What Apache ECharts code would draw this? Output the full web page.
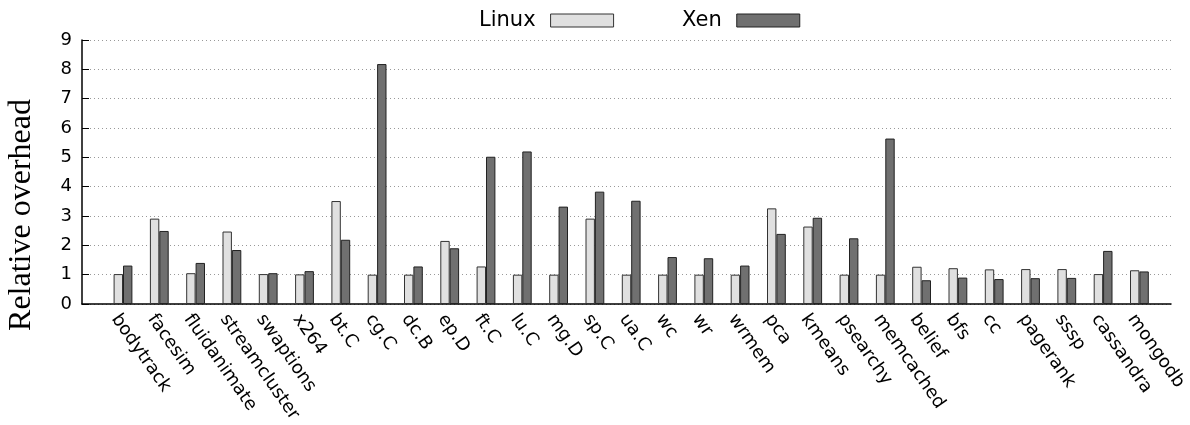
<!DOCTYPE html>
<html>
<head>
<meta charset="utf-8">
<script src="https://cdn.jsdelivr.net/npm/echarts@6/dist/echarts.min.js"></script>
<style>html,body{margin:0;padding:0;background:#fff;}#c{width:1190px;height:425px;}</style>
</head>
<body>
<div id="c"></div>
<script>
const categories = ['bodytrack','facesim','fluidanimate','streamcluster','swaptions','x264','bt.C','cg.C','dc.B','ep.D','ft.C','lu.C','mg.D','sp.C','ua.C','wc','wr','wrmem','pca','kmeans','psearchy','memcached','belief','bfs','cc','pagerank','sssp','cassandra','mongodb'];
const linuxValues = [1.02,2.91,1.05,2.47,1.02,1.01,3.51,1.0,1.0,2.15,1.28,1.0,1.0,2.91,1.0,1.0,1.0,1.0,3.26,2.64,1.0,1.0,1.27,1.22,1.18,1.19,1.19,1.02,1.15];
const xenValues = [1.31,2.49,1.40,1.84,1.05,1.12,2.19,8.18,1.28,1.90,5.02,5.20,3.32,3.83,3.52,1.60,1.56,1.31,2.39,2.94,2.24,5.64,0.81,0.90,0.85,0.88,0.89,1.81,1.11];
const yTicks = [0,1,2,3,4,5,6,7,8,9];
const yTitle = 'Relative overhead';

const chart = echarts.init(document.getElementById('c'), null, {renderer:'canvas'});
const sans = 'DejaVu Sans';
chart.setOption({
  animation:false,
  backgroundColor:'#fff',
  legend:{
    left:474, top:5, align:'right', itemWidth:63, itemHeight:13, itemGap:68,
    textStyle:{fontFamily:sans, fontSize:21, color:'#000', padding:[0,10,0,0]},
    data:[
      {name:'Linux', icon:'rect', itemStyle:{color:'#e0e0e0', borderColor:'#333', borderWidth:1}},
      {name:'Xen', icon:'rect', itemStyle:{color:'#707070', borderColor:'#222', borderWidth:1}}
    ]
  },
  graphic:[
    {type:'text', x:22, y:215, rotation:Math.PI/2, style:{text:yTitle, fontFamily:'Liberation Serif', fontSize:32, fill:'#000', align:'center', verticalAlign:'middle'}}
  ],
  grid:[
    {left:82, right:19, top:40, bottom:121, outerBoundsMode:'none', containLabel:false},
    {left:104.85, right:32.45, top:40, bottom:121, outerBoundsMode:'none', containLabel:false},
    {left:96.85, right:40.45, top:40, bottom:121, outerBoundsMode:'none', containLabel:false}
  ],
  xAxis:[
    {gridIndex:0, type:'value', min:0, max:1, axisLine:{show:true, onZero:false, lineStyle:{color:'#000', width:1.5}}, axisTick:{show:false}, axisLabel:{show:false}, splitLine:{show:false}},
    {gridIndex:1, type:'category', data:categories, axisLine:{show:false}, axisTick:{show:false}, axisLabel:{show:false}},
    {gridIndex:2, type:'category', data:categories, axisLine:{show:false}, axisTick:{show:false},
     axisLabel:{interval:0, rotate:-55, margin:12, fontFamily:sans, fontSize:18, color:'#000'}}
  ],
  yAxis:[
    {gridIndex:0, type:'value', min:0, max:9, interval:1,
     axisLine:{show:true, onZero:false, lineStyle:{color:'#000', width:1.5}},
     axisTick:{show:true, inside:true, length:7, lineStyle:{color:'#000'}},
     axisLabel:{fontFamily:sans, fontSize:18, color:'#000', margin:10, formatter:function(v){return yTicks.indexOf(v)>=0?String(v):'';}},
     splitLine:{show:true, lineStyle:{color:'#999', width:1, type:[1,3]}}},
    {gridIndex:1, type:'value', min:0, max:9, interval:1, show:false, splitLine:{show:false}},
    {gridIndex:2, type:'value', min:0, max:9, interval:1, show:false, splitLine:{show:false}}
  ],
  series:[
    {name:'Linux', type:'bar', xAxisIndex:1, yAxisIndex:1, data:linuxValues, barWidth:9.4, barGap:'0%',
     itemStyle:{color:'#e0e0e0', borderColor:'#333', borderWidth:1}},
    {name:'Xen', type:'bar', xAxisIndex:1, yAxisIndex:1, data:xenValues, barWidth:9.4, barGap:'0%',
     itemStyle:{color:'#707070', borderColor:'#222', borderWidth:1}}
  ]
});
</script>
</body>
</html>
